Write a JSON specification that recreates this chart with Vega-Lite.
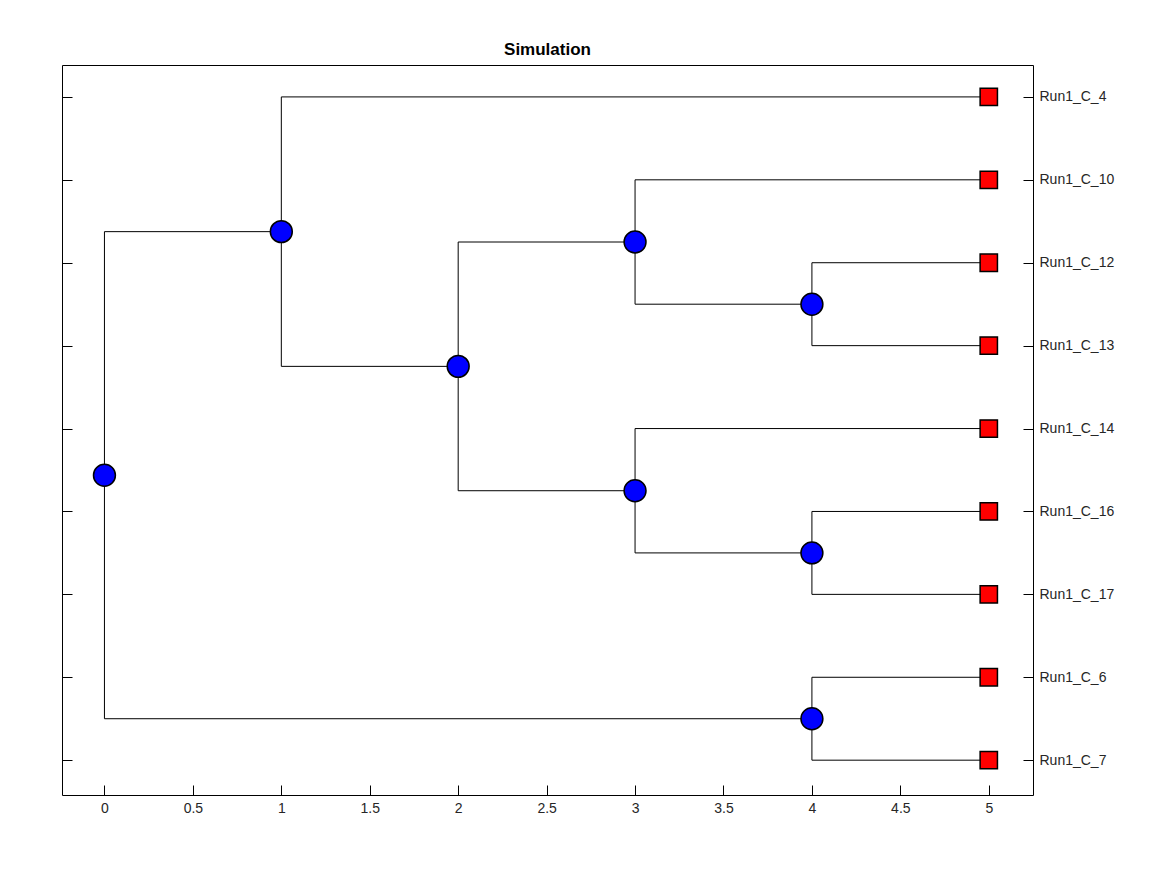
{
  "$schema": "https://vega.github.io/schema/vega-lite/v6.json",
  "width": 971,
  "height": 730,
  "autosize": "none",
  "padding": {"left": 62, "top": 65, "right": 134, "bottom": 80},
  "background": "white",
  "config": {
    "font": "Liberation Sans",
    "view": {"stroke": "black", "strokeWidth": 1},
    "axis": {"grid": false, "domain": false, "tickColor": "black", "tickSize": -10, "labelFontSize": 14, "labelColor": "#262626", "titleFontSize": 14}
  },
  "title": {"text": "Simulation", "fontSize": 17, "fontWeight": "bold", "offset": 6, "color": "black"},
  "datasets": {
    "segments": [
      {"x": 0, "x2": 0, "y": 2.625, "y2": 8.5},
      {"x": 0, "x2": 1, "y": 2.625, "y2": 2.625},
      {"x": 0, "x2": 4, "y": 8.5, "y2": 8.5},
      {"x": 1, "x2": 1, "y": 1, "y2": 4.25},
      {"x": 1, "x2": 5, "y": 1, "y2": 1},
      {"x": 1, "x2": 2, "y": 4.25, "y2": 4.25},
      {"x": 2, "x2": 2, "y": 2.75, "y2": 5.75},
      {"x": 2, "x2": 3, "y": 2.75, "y2": 2.75},
      {"x": 2, "x2": 3, "y": 5.75, "y2": 5.75},
      {"x": 3, "x2": 3, "y": 2, "y2": 3.5},
      {"x": 3, "x2": 5, "y": 2, "y2": 2},
      {"x": 3, "x2": 4, "y": 3.5, "y2": 3.5},
      {"x": 4, "x2": 4, "y": 3, "y2": 4},
      {"x": 4, "x2": 5, "y": 3, "y2": 3},
      {"x": 4, "x2": 5, "y": 4, "y2": 4},
      {"x": 3, "x2": 3, "y": 5, "y2": 6.5},
      {"x": 3, "x2": 5, "y": 5, "y2": 5},
      {"x": 3, "x2": 4, "y": 6.5, "y2": 6.5},
      {"x": 4, "x2": 4, "y": 6, "y2": 7},
      {"x": 4, "x2": 5, "y": 6, "y2": 6},
      {"x": 4, "x2": 5, "y": 7, "y2": 7},
      {"x": 4, "x2": 4, "y": 8, "y2": 9},
      {"x": 4, "x2": 5, "y": 8, "y2": 8},
      {"x": 4, "x2": 5, "y": 9, "y2": 9}
    ],
    "nodes": [
      {"x": 0, "y": 5.5625},
      {"x": 1, "y": 2.625},
      {"x": 2, "y": 4.25},
      {"x": 3, "y": 2.75},
      {"x": 4, "y": 3.5},
      {"x": 3, "y": 5.75},
      {"x": 4, "y": 6.5},
      {"x": 4, "y": 8.5}
    ],
    "leaves": [
      {"x": 5, "y": 1, "name": "Run1_C_4"},
      {"x": 5, "y": 2, "name": "Run1_C_10"},
      {"x": 5, "y": 3, "name": "Run1_C_12"},
      {"x": 5, "y": 4, "name": "Run1_C_13"},
      {"x": 5, "y": 5, "name": "Run1_C_14"},
      {"x": 5, "y": 6, "name": "Run1_C_16"},
      {"x": 5, "y": 7, "name": "Run1_C_17"},
      {"x": 5, "y": 8, "name": "Run1_C_6"},
      {"x": 5, "y": 9, "name": "Run1_C_7"}
    ]
  },
  "resolve": {"axis": {"y": "independent"}},
  "layer": [
    {
      "data": {"name": "segments"},
      "mark": {"type": "rule", "color": "black", "strokeWidth": 1},
      "encoding": {
        "x": {"field": "x", "type": "quantitative", "scale": {"domain": [-0.24, 5.25], "nice": false, "zero": false},
              "axis": {"title": null, "values": [0, 0.5, 1, 1.5, 2, 2.5, 3, 3.5, 4, 4.5, 5], "format": "~g", "labelPadding": 16}},
        "x2": {"field": "x2"},
        "y": {"field": "y", "type": "quantitative", "scale": {"domain": [0.615, 9.42], "reverse": true, "nice": false, "zero": false},
              "axis": {"orient": "left", "title": null, "values": [1, 2, 3, 4, 5, 6, 7, 8, 9], "labels": false}},
        "y2": {"field": "y2"}
      }
    },
    {
      "data": {"name": "nodes"},
      "mark": {"type": "circle", "size": 480, "fill": "#0000ff", "stroke": "black", "strokeWidth": 1.5, "opacity": 1},
      "encoding": {
        "x": {"field": "x", "type": "quantitative"},
        "y": {"field": "y", "type": "quantitative", "axis": null}
      }
    },
    {
      "data": {"name": "leaves"},
      "mark": {"type": "square", "size": 300, "fill": "#ff0000", "stroke": "black", "strokeWidth": 1.5, "opacity": 1},
      "encoding": {
        "x": {"field": "x", "type": "quantitative"},
        "y": {"field": "y", "type": "quantitative",
              "axis": {"orient": "right", "title": null, "values": [1, 2, 3, 4, 5, 6, 7, 8, 9], "labelPadding": 16,
                       "labelExpr": "['Run1_C_4','Run1_C_10','Run1_C_12','Run1_C_13','Run1_C_14','Run1_C_16','Run1_C_17','Run1_C_6','Run1_C_7'][datum.value-1]"}}
      }
    }
  ]
}
